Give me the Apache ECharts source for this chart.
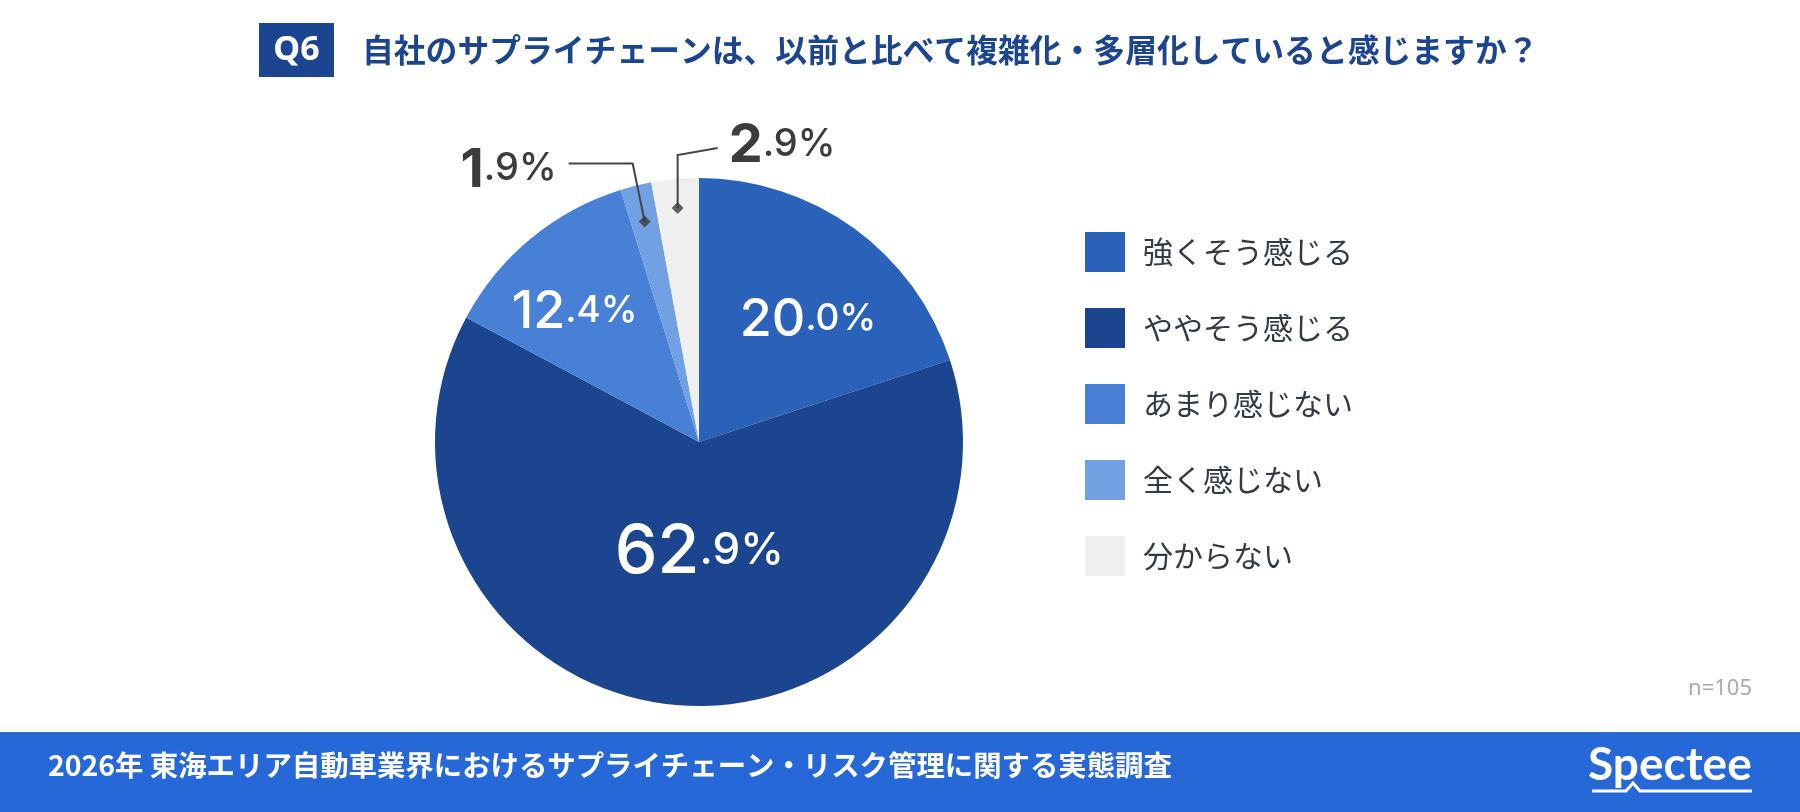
<!DOCTYPE html>
<html><head><meta charset="utf-8">
<script src="https://cdn.jsdelivr.net/npm/echarts@6/dist/echarts.min.js"></script>
<style>html,body{margin:0;padding:0;background:#fff}#c{width:1800px;height:812px}</style>
</head><body><div id="c"></div>
<script>
const categories = ['強くそう感じる','ややそう感じる','あまり感じない','全く感じない','分からない'];
const values = [20.0, 62.9, 12.4, 1.9, 2.9];
const sampleSize = 105;
const titleText = '自社のサプライチェーンは、以前と比べて複雑化・多層化していると感じますか？';
const questionTag = 'Q6';
const footerText = '2026年 東海エリア自動車業界におけるサプライチェーン・リスク管理に関する実態調査';

const colors = ['#2962b8','#1b458e','#4880d5','#71a1e2','#efefef'];
const CX = 699, CY = 442, R = 264;
const total = values.reduce((a,b)=>a+b,0);
function cumBefore(i){ let c=0; for(let k=0;k<i;k++) c+=values[k]; return c; }
function midAngle(i){ return (cumBefore(i)+values[i]/2)/total*360; }
// label placement styles: inside -> [angle shift deg, radius fraction]; outside -> leader spec
const insideLabelPos = {0:[5.8,0.62],1:[-5.2,0.42],2:[-4.3,0.68]};
const outsideLeader = {3:{r:0.86,elbow:[-12,-58],tail:[-64,0],gap:-12,dy:7,align:'right'},
                       4:{r:0.89,elbow:[0,-53],tail:[40,-7],gap:11,dy:-2,align:'left'}};

function fmt(v, outside){
  const s = v.toFixed(1); const p = s.split('.');
  return outside ? '{oa|'+p[0]+'}{ob|.'+p[1]+'%}' : '{a'+(v>50?'L':'')+'|'+p[0]+'}{b'+(v>50?'L':'')+'|.'+p[1]+'%}';
}
const pieData = categories.map((n,i)=>({
  name:n, value:values[i], itemStyle:{color:colors[i]},
  label:{formatter: fmt(values[i], !!outsideLeader[i])}
}));
const leaderIdx = Object.keys(outsideLeader).map(Number);
const leaderData = leaderIdx.map(i=>[outsideLeader[i].r, cumBefore(i)+values[i]/2, i]);

const chart = echarts.init(document.getElementById('c'), null, {renderer:'canvas'});
const numFont = 'Inter';
chart.setOption({
  animation:false,
  backgroundColor:'#fff',
  title:{
    left:254, top:18,
    text:'{q|'+questionTag+'}{t|'+titleText+'}',
    textStyle:{rich:{
      q:{backgroundColor:'#1b4590',color:'#fff',fontSize:34,fontWeight:'bold',fontFamily:'Noto Sans',width:75,height:54,lineHeight:54,align:'center'},
      t:{color:'#1b4590',fontSize:31.8,fontWeight:'bold',fontFamily:'Noto Sans CJK JP',padding:[0,0,0,28]}
    }}
  },
  legend:{
    orient:'vertical', left:1080, top:227, itemWidth:40, itemHeight:40, itemGap:36,
    icon:'rect', selectedMode:false,
    textStyle:{fontSize:30,color:'#333a45',fontFamily:'Noto Sans CJK JP',padding:[0,0,0,13],lineHeight:40},
    itemStyle:{borderWidth:0},
    data:categories
  },
  polar:{center:[CX,CY], radius:R},
  angleAxis:{type:'value',min:0,max:total,startAngle:90,clockwise:true,show:false},
  radiusAxis:{type:'value',min:0,max:1,show:false},
  series:[{
    type:'pie', center:[CX,CY], radius:[0,R], startAngle:90, clockwise:true,
    avoidLabelOverlap:false, emphasis:{disabled:true}, silent:true,
    itemStyle:{borderWidth:0},
    labelLine:{show:false},
    label:{show:true, position:'outside', rich:{
      a:{color:'#fff',fontSize:52,fontFamily:numFont,fontWeight:500},
      b:{color:'#fff',fontSize:37,fontFamily:numFont,fontWeight:500,padding:[0,0,3,0]},
      aL:{color:'#fff',fontSize:68,fontFamily:numFont,fontWeight:500},
      bL:{color:'#fff',fontSize:44,fontFamily:numFont,fontWeight:500,padding:[0,0,5,0]},
      oa:{color:'#3c3c3c',fontSize:54,fontFamily:numFont,fontWeight:'bold'},
      ob:{color:'#3c3c3c',fontSize:38,fontFamily:numFont,fontWeight:500,padding:[0,0,3,0]}
    }},
    labelLayout:function(params){
      const i = params.dataIndex;
      const a0 = midAngle(i);
      if (insideLabelPos[i]){
        const [da, rf] = insideLabelPos[i];
        const a = (a0+da)*Math.PI/180;
        return {x: CX + rf*R*Math.sin(a), y: CY - rf*R*Math.cos(a), align:'center', verticalAlign:'middle'};
      }
      const L = outsideLeader[i];
      const a = a0*Math.PI/180;
      const D = [CX + L.r*R*Math.sin(a), CY - L.r*R*Math.cos(a)];
      const E = [D[0]+L.elbow[0], D[1]+L.elbow[1]];
      const F = [E[0]+L.tail[0], E[1]+L.tail[1]];
      return {x: F[0]+L.gap, y: F[1]+L.dy, align:L.align, verticalAlign:'middle'};
    },
    data:pieData
  },{
    type:'custom', coordinateSystem:'polar', silent:true, z:4,
    data:leaderData,
    renderItem:function(params, api){
      const i = api.value(2);
      const L = outsideLeader[i];
      const D = api.coord([api.value(0), api.value(1)]);
      const E = [D[0]+L.elbow[0], D[1]+L.elbow[1]];
      const F = [E[0]+L.tail[0], E[1]+L.tail[1]];
      return {type:'polyline', shape:{points:[F,E,D]}, style:{stroke:'#444',lineWidth:2,fill:null}};
    }
  },{
    type:'scatter', coordinateSystem:'polar', symbol:'diamond', symbolSize:12, silent:true,
    itemStyle:{color:'#3c3c3c'}, data:leaderData.map(d=>[d[0],d[1]]), z:5
  }],
  graphic:[
    {type:'rect', left:0, top:732, shape:{width:1800,height:80}, style:{fill:'#2768d8'}, silent:true},
    {type:'text', left:48, top:751, style:{text:footerText, fill:'#fff', fontSize:28.4, fontWeight:'bold', fontFamily:'Noto Sans CJK JP'}},
    {type:'text', right:48, top:678, style:{text:'n='+sampleSize, fill:'#a9a9a9', fontSize:22, fontFamily:'Noto Sans'}},
    {type:'text', left:1588, top:742, style:{text:'Spectee', fill:'#fff', fontSize:46, fontWeight:'bold', fontFamily:'Lato'}},
    {type:'polyline', shape:{points:[[1592,791],[1626,791],[1633,783],[1640,791],[1752,791]]}, style:{stroke:'#fff',lineWidth:3,fill:null}}
  ]
});
</script></body></html>
